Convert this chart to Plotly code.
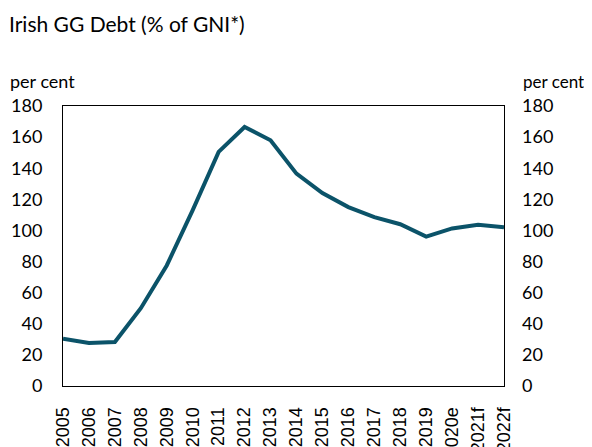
import plotly.graph_objects as go

years = ["2005", "2006", "2007", "2008", "2009", "2010", "2011", "2012", "2013",
         "2014", "2015", "2016", "2017", "2018", "2019", "2020e", "2021f", "2022f"]
debt = [30.4, 27.6, 28.3, 50, 77.5, 113, 150.5, 166.5, 158, 136.5, 124, 115,
        108.5, 104, 96, 101.3, 103.7, 102]
y_ticks = [0, 20, 40, 60, 80, 100, 120, 140, 160, 180]

line_color = "#0b5369"

# page has an 8px body margin, so the figure is offset by 8px
OFF = 8
W, H = 592 - OFF, 447 - OFF
L, R, T, B = 63 - OFF, 88, 106 - OFF, 61

fig = go.Figure()
fig.add_trace(go.Scatter(x=years, y=debt, mode="lines",
                         line=dict(color=line_color, width=4), showlegend=False,
                         hoverinfo="x+y"))
fig.add_trace(go.Scatter(x=years, y=debt, mode="lines", yaxis="y2",
                         line=dict(color="rgba(0,0,0,0)", width=0), showlegend=False,
                         hoverinfo="skip"))

tickfont = dict(family="Lato", size=18, color="#000")
fig.update_layout(
    width=W, height=H,
    margin=dict(l=L, r=R, t=T, b=B, autoexpand=False),
    paper_bgcolor="white", plot_bgcolor="white",
    font=dict(family="Lato", color="#000"),
    xaxis=dict(type="category", tickangle=-90, automargin=False,
               tickfont=dict(family="Liberation Sans", size=18, color="#000"),
               showgrid=False, zeroline=False, showline=True, linecolor="#000",
               linewidth=1, mirror=True, ticks="", ticklabelstandoff=13),
    yaxis=dict(range=[0, 180], tickvals=y_ticks, tickfont=tickfont, automargin=False,
               showgrid=False, zeroline=False, showline=True, linecolor="#000",
               linewidth=1, mirror=True, ticks="", ticklabelstandoff=16),
    yaxis2=dict(range=[0, 180], tickvals=y_ticks, tickfont=tickfont, overlaying="y",
                side="right", showgrid=False, zeroline=False, showline=False,
                automargin=False, ticks="", ticklabelstandoff=17),
)

pw, ph = W - L - R, H - T - B
anns = []
specs = [("Irish GG Debt (% of GNI*)", 8, 24, 21),
         ("per cent", 9, 81, 18),
         ("per cent", 522, 81, 17)]
for txt, px, py, sz in specs:
    fx, fy = px - OFF, py - OFF
    anns.append(dict(text=txt, x=(fx - L) / pw, y=(H - B - fy) / ph, xref="paper", yref="paper",
                     xanchor="left", yanchor="middle", showarrow=False, borderpad=0,
                     font=dict(family="Lato", size=sz, color="#000")))
fig.update_layout(annotations=anns)

fig.write_html("out.html")
